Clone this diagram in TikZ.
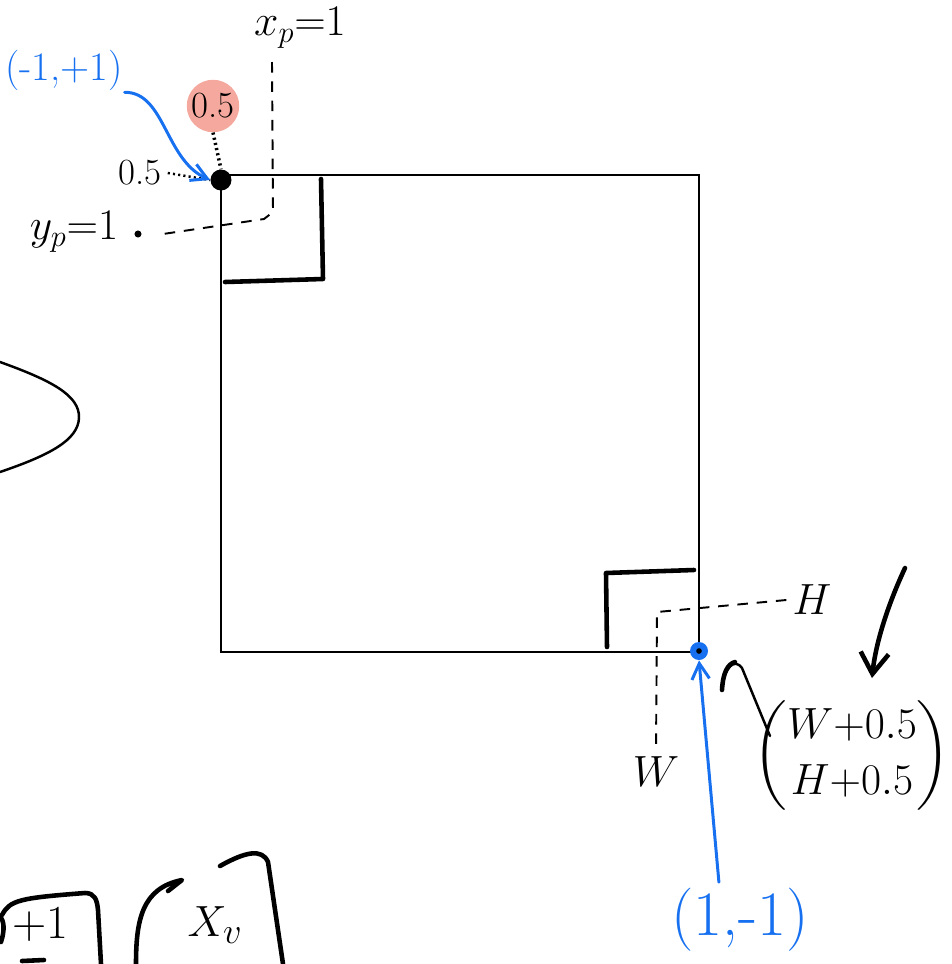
\documentclass[tikz,border=0pt]{standalone}
\usepackage{amsmath,amssymb}
\usepackage{xcolor}
\usetikzlibrary{arrows.meta, positioning}
\definecolor{penblue}{RGB}{22,112,240}
\definecolor{penpink}{RGB}{244,168,158}

\begin{document}
\begin{tikzpicture}[
    x=0.02cm,y=-0.02cm,
    frame/.style={draw,line width=1.1pt},
    pen/.style={line width=1.4pt,line cap=round,line join=round},
    heavy/.style={line width=2.6pt,line cap=round,line join=round},
    guide/.style={line width=1.1pt,dash pattern=on 6pt off 5pt},
    tick/.style={line width=2pt,dash pattern=on 1.2pt off 1.8pt},
    bluearrow/.style={penblue,line width=1.7pt,line cap=round,-{Straight Barb[length=9pt,width=10pt]}},
    dotmark/.style={circle,fill,inner sep=0pt,minimum size=#1},
    bigtext/.style={font=\fontsize{32}{38}\selectfont},
    midtext/.style={font=\fontsize{27}{34}\selectfont},
    smalltext/.style={font=\fontsize{21}{24}\selectfont}
]
\useasboundingbox (0,0) rectangle (951,964);
% square and corner marks
\draw[frame] (221,175) rectangle (699,652);
\draw[heavy] (321,179) -- (323,279) -- (225,282);
\draw[heavy] (607,647) -- (606,573) -- (694,570);
\node[dotmark=0.42cm] (tl) at (221,180) {};
\node[dotmark=0.36cm,penblue] (br) at (699,651) {};
\fill (br) circle (1.6pt);
% top left labels
\node[midtext] (xp) at (300,28) {$x_p{=}1$};
\node[midtext] (yp) at (74,232) {$y_p{=}1$};
\node[dotmark=4pt] (ypdot) at (138,234) {};
\coordinate (xpfoot) at (272,62);
\draw[guide] (xpfoot) -- (273,212) -- (264,219) -- ([xshift=12pt]ypdot.east);
\node[smalltext,circle,fill=penpink,minimum size=1.05cm,inner sep=0pt] (half top) at (213,106) {0.5};
\draw[tick] (half top.south) -- (tl.north);
\node[smalltext] (half left) at (140,173) {0.5};
\draw[tick,line width=1.4pt] (half left.east) -- (tl.west);
\node[font=\fontsize{23}{28}\selectfont,penblue,inner sep=1pt] (neg) at (64,70) {(-1,+1)};
\draw[bluearrow] (neg.south east) .. controls (165,92) and (165,160) .. (tl.west);
% bottom right labels
\node[bigtext] (hlabel) at (812,600) {$H$};
\node[bigtext] (wlabel) at (656,772) {$W$};
\draw[guide] (hlabel.west) -- (657,612) -- (wlabel.north);
\node[font=\fontsize{36}{42}\selectfont,penblue] (pos) at (740,920) {(1,-1)};
\draw[bluearrow] ([xshift=-12pt]pos.north) -- (br.south);
\node[font=\fontsize{26}{32}\selectfont] (wh) at (852,755) {$\begin{pmatrix}W{+}0.5\\H{+}0.5\end{pmatrix}$};
\coordinate (hook start) at (770,736);
\draw[pen] (hook start) -- (742,668) .. controls (735,658) and (724,666) .. (722,690);
\draw[heavy] (735,662) .. controls (728,664) and (723,672) .. (722,690);
\coordinate (swoop top) at (905,568);
\coordinate (swoop tip) at (872,678);
\draw[heavy,-{Straight Barb[length=12pt,width=16pt]}] (swoop top) .. controls (890,600) and (876,640) .. (swoop tip);
% left arc
\draw[pen] (0,362) .. controls (50,380) and (80,395) .. (79,418) .. controls (78,440) and (50,455) .. (0,472);
% bottom fragments
\draw[heavy] (2,915) .. controls (10,900) and (20,898) .. (85,893) .. controls (95,893) and (97,900) .. (98,910) -- (101,964);
\draw[heavy] (0,917) .. controls (4,920) and (5,930) .. (1,942);
\node[midtext] (plusone) at (40,924) {+1};
\draw[heavy] (22,961) -- (44,960);
\draw[heavy] (168,891) -- (182,880) .. controls (142,888) and (136,920) .. (136,964);
\draw[heavy] (220,866) .. controls (245,852) and (262,848) .. (268,862) -- (283,964);
\node[bigtext] (xv) at (215,925) {$X_v$};
\end{tikzpicture}
\end{document}
